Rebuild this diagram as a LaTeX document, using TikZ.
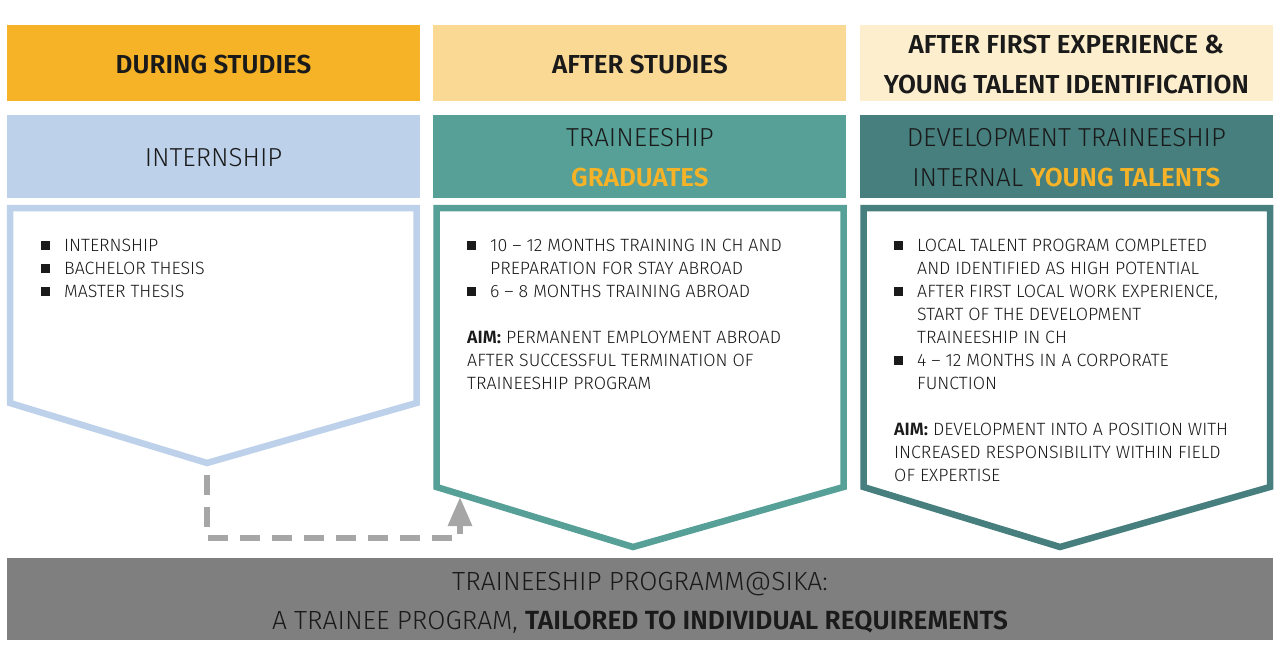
\documentclass[tikz,border=0pt]{standalone}
\usepackage{fontspec}
\setmainfont{Fira Sans Light}[BoldFont={Fira Sans SemiBold}]
\usetikzlibrary{positioning,arrows.meta}

\definecolor{sikaorange}{HTML}{F6B327}
\definecolor{sikasand}{HTML}{FAD995}
\definecolor{sikacream}{HTML}{FDEECE}
\definecolor{sikablue}{HTML}{BDD1EA}
\definecolor{sikateal}{HTML}{56A097}
\definecolor{sikapetrol}{HTML}{467F7E}
\definecolor{sikagray}{HTML}{7F7F7F}
\definecolor{arrowgray}{HTML}{A6A6A6}
\definecolor{ink}{HTML}{1A1A1A}

\newcommand{\sqb}{\makebox[23pt][l]{\rule[2pt]{8.5pt}{8.5pt}}}
\newcommand{\ind}{\hspace*{23pt}}

\begin{document}
\begin{tikzpicture}[x=1pt,y=-1pt,
	hdr/.style={minimum width=413pt,minimum height=76pt,inner sep=0pt,align=center,text=ink,
		text height=22pt,font=\bfseries\fontsize{26}{40}\selectfont},
	subhdr/.style={minimum width=413pt,minimum height=83pt,inner sep=0pt,align=center,text=ink,
		text height=20pt,font=\fontsize{26}{40}\selectfont},
	bodytxt/.style={anchor=north west,inner sep=0pt,align=left,text=ink,
		font=\fontsize{17.8}{23}\selectfont},
	pent/.style={line width=6.5pt,fill=white,line join=miter},
	dasharrow/.style={draw=arrowgray,line width=6pt,dash pattern=on 20pt off 12pt,
		-{Triangle[width=23pt,length=29pt]}}]
	\useasboundingbox (0,0) rectangle (1280,648);

	% header row
	\node[hdr,fill=sikaorange] (hd1) at (213.5,63) {DURING STUDIES};
	\node[hdr,fill=sikasand,right=13pt of hd1] (hd2) {AFTER STUDIES};
	\node[hdr,fill=sikacream,right=13pt of hd2,text height=62pt] (hd3) {AFTER FIRST EXPERIENCE \&\\YOUNG TALENT IDENTIFICATION};

	% programme row
	\node[subhdr,fill=sikablue] (sb1) at (213.5,156.5) {INTERNSHIP};
	\node[subhdr,fill=sikateal,right=13pt of sb1,text height=60pt] (sb2) {TRAINEESHIP\\\textbf{\color{sikaorange}GRADUATES}};
	\node[subhdr,fill=sikapetrol,right=13pt of sb2,text height=60pt] (sb3) {DEVELOPMENT TRAINEESHIP\\INTERNAL \textbf{\color{sikaorange}YOUNG TALENTS}};

	% arrow shaped boxes
	\draw[pent,draw=sikablue] (10,208) -- (416.5,208) -- (416.5,403) -- (207,463) -- (10,403) -- cycle;
	\draw[pent,draw=sikateal] (436.5,208) -- (843.5,208) -- (843.5,487) -- (633,547) -- (436.5,487) -- cycle;
	\draw[pent,draw=sikapetrol] (863.5,208) -- (1270,208) -- (1270,487) -- (1060,547) -- (863.5,487) -- cycle;

	\node[bodytxt] (tx1) at (41,239) {\sqb INTERNSHIP\\
		\sqb BACHELOR THESIS\\
		\sqb MASTER THESIS};
	\node[bodytxt] (tx2) at (467,239) {\sqb 10 -- 12 MONTHS TRAINING IN CH AND\\
		\ind PREPARATION FOR STAY ABROAD\\
		\sqb 6 -- 8 MONTHS TRAINING ABROAD\\[23pt]
		\textbf{AIM:} PERMANENT EMPLOYMENT ABROAD\\
		AFTER SUCCESSFUL TERMINATION OF\\
		TRAINEESHIP PROGRAM};
	\node[bodytxt] (tx3) at (894,239) {\sqb LOCAL TALENT PROGRAM COMPLETED\\
		\ind AND IDENTIFIED AS HIGH POTENTIAL\\
		\sqb AFTER FIRST LOCAL WORK EXPERIENCE,\\
		\ind START OF THE DEVELOPMENT\\
		\ind TRAINEESHIP IN CH\\
		\sqb 4 -- 12 MONTHS IN A CORPORATE\\
		\ind FUNCTION\\[23pt]
		\textbf{AIM:} DEVELOPMENT INTO A POSITION WITH\\
		INCREASED RESPONSIBILITY WITHIN FIELD\\
		OF EXPERTISE};

	% bottom band
	\node[fill=sikagray,minimum width=1266pt,minimum height=82pt,inner sep=0pt,align=center,text=ink,
		text height=65pt,font=\fontsize{26.3}{39.5}\selectfont] (band) at (640,599)
		{TRAINEESHIP PROGRAMM@SIKA:\\A TRAINEE PROGRAM, \textbf{TAILORED TO INDIVIDUAL REQUIREMENTS}};

	% link from internship to traineeship
	\coordinate (from) at (207,475);
	\coordinate (turn) at (207,538);
	\coordinate (to) at (460,497);
	\draw[dasharrow] (from) -- (turn) -| (to);
\end{tikzpicture}
\end{document}
